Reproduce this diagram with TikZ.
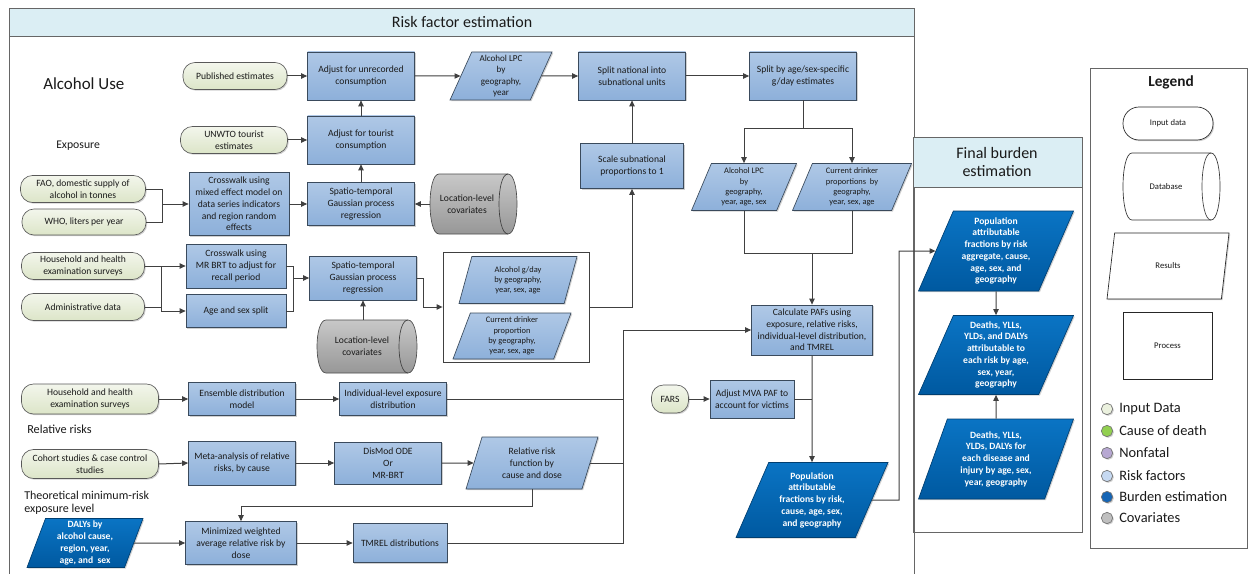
\documentclass[tikz,border=0pt]{standalone}
\usepackage{fontspec}
\setmainfont{Carlito}
\usetikzlibrary{arrows.meta,shapes.geometric,calc,shadows}
\definecolor{procT}{HTML}{AFC8E6}
\definecolor{procB}{HTML}{8DB0DA}
\definecolor{inpT}{HTML}{F3F6EC}
\definecolor{inpB}{HTML}{DCE5C8}
\definecolor{darkT}{HTML}{0A74C4}
\definecolor{darkB}{HTML}{0059A0}
\definecolor{hdr}{HTML}{DBEEF4}
\definecolor{lineC}{HTML}{404040}
\definecolor{edgeC}{HTML}{3A4A5C}
\definecolor{covT}{HTML}{C8C8C8}
\definecolor{covB}{HTML}{979797}
\definecolor{txt}{HTML}{1A1A1A}
\definecolor{cInp}{HTML}{EBF1DE}
\definecolor{cCod}{HTML}{92D050}
\definecolor{cNf}{HTML}{B7A8D2}
\definecolor{cRf}{HTML}{C6D9F1}
\definecolor{cBe}{HTML}{1565B5}
\definecolor{cCov}{HTML}{BFBFBF}
\tikzset{
 sz/.style 2 args={minimum width=#1*0.75pt, minimum height=#2*0.75pt},
 shad/.style={drop shadow={shadow xshift=0.9pt, shadow yshift=-0.9pt, opacity=0.3, fill=black!60}},
 proc/.style={rectangle, draw=edgeC, line width=0.5pt, top color=procT, bottom color=procB, align=center, inner sep=1pt, font=\fontsize{7.2}{8.8}\selectfont, text=txt, shad},
 inp/.style={rectangle, rounded corners=9pt, draw=black!65, line width=0.5pt, top color=inpT, bottom color=inpB, align=center, inner sep=1pt, font=\fontsize{7.2}{8.8}\selectfont, text=txt, shad},
 para/.style={trapezium, trapezium left angle=63, trapezium right angle=117, trapezium stretches body, draw=edgeC, line width=0.5pt, top color=procT, bottom color=procB, align=center, inner sep=0.5pt, font=\fontsize{6.3}{7.6}\selectfont, text=txt, shad},
 dpara/.style={para, draw=darkB!70!black, top color=darkT, bottom color=darkB, text=white, font=\fontsize{7.2}{8.8}\selectfont\bfseries},
 cylbox/.style={rectangle, inner sep=0pt},
 cyltext/.style={inner sep=0pt, align=center, font=\fontsize{7.2}{8.8}\selectfont, text=txt},
 cylg/.style={draw=black!70, line width=0.5pt, top color=covT, bottom color=covB},
 cylw/.style={draw=black!80, line width=0.5pt, fill=white},
 cylin/.style={draw=black!75, line width=0.5pt},
 arr/.style={draw=lineC, line width=0.75pt, -{Triangle[length=4.5pt,width=4pt]}},
 ln/.style={draw=lineC, line width=0.75pt},
 panel/.style={draw=black!60, line width=0.6pt},
 sect/.style={anchor=west, inner sep=0pt, text=txt},
 legs/.style={draw=black!85, line width=0.5pt, fill=white, align=center, font=\fontsize{6.5}{8}\selectfont, text=txt, shad},
 lgc/.style={circle, draw=black!55, line width=0.5pt, minimum size=8.5pt, inner sep=0pt, shad},
 lgt/.style={anchor=west, inner sep=0pt, font=\fontsize{10.8}{12}\selectfont, text=txt},
}
\newcommand\cylsh[5]{%
 \pgfmathsetmacro\cyA{#2+9}\pgfmathsetmacro\cyB{#4-9}%
 \pgfmathsetmacro\cyC{#2-3}\pgfmathsetmacro\cyD{#4+3}\pgfmathsetmacro\cyE{#4-21}%
 \draw[#1] (\cyA,#3) -- (\cyB,#3) .. controls (\cyD,#3) and (\cyD,#5) .. (\cyB,#5) -- (\cyA,#5) .. controls (\cyC,#5) and (\cyC,#3) .. (\cyA,#3) -- cycle;
 \draw[cylin] (\cyB,#3) .. controls (\cyE,#3) and (\cyE,#5) .. (\cyB,#5);
}
\begin{document}
\begin{tikzpicture}[x=0.75pt,y=-0.75pt]
\path[use as bounding box, fill=white] (0,0) rectangle (1248,574);

% panels
\draw[panel] (9,36) -- (9,576);
\draw[panel] (914,36) -- (914,576);
\draw[panel,fill=hdr] (9,8) rectangle (914,36);
\node[font=\fontsize{12}{14}\selectfont, text=txt] (rfe) at (462,22) {Risk factor estimation};
\draw[panel] (913,137) rectangle (1082,532);
\draw[panel,fill=hdr] (913,137) rectangle (1082,187);
\node[align=center, font=\fontsize{12}{13.5}\selectfont, text=txt] (fbe) at (997,162) {Final burden\\estimation};
\draw[panel] (1090,68) rectangle (1247,548);

% section labels
\node[sect, font=\fontsize{12.7}{15}\selectfont] (tAU) at (43,84) {Alcohol Use};
\node[sect, font=\fontsize{8.8}{10}\selectfont] (tExp) at (56,146) {Exposure};
\node[sect, font=\fontsize{9.2}{10}\selectfont] (tRR) at (27,429) {Relative risks};
\node[sect, align=left, font=\fontsize{9}{9.8}\selectfont] (tTM) at (24,503) {Theoretical minimum-risk\\exposure level};

% cylinders (covariates)
\cylsh{cylg}{430}{174}{517}{234}
\node[cylbox, sz={87}{60}] (cov1) at (473.5,204) {};
\node[cyltext] (cov1t) at (467,204) {Location-level\\covariates};
\cylsh{cylg}{317}{320}{417}{373}
\node[cylbox, sz={100}{53}] (cov2) at (367,346.5) {};
\node[cyltext] (cov2t) at (362,346.5) {Location-level\\covariates};

% input data
\node[inp, sz={104}{27}] (pub) at (235,76) {Published estimates};
\node[inp, sz={107}{27}] (unwto) at (234,140) {UNWTO tourist\\estimates};
\node[inp, sz={125}{27}] (fao) at (83,189) {FAO, domestic supply of\\alcohol in tonnes};
\node[inp, sz={124}{26}] (who) at (84,222) {WHO, liters per year};
\node[inp, sz={123}{27}] (hh1) at (83,266) {Household and health\\examination surveys};
\node[inp, sz={123}{27}] (adm) at (83,307) {Administrative data};
\node[inp, sz={137}{30}] (hh2) at (90,399) {Household and health\\examination surveys};
\node[inp, sz={137}{29}] (coh) at (90,464) {Cohort studies \& case control\\studies};
\node[inp, sz={37}{28}] (fars) at (670,399) {FARS};

% processes and results
\node[proc, sz={107}{48}] (unrec) at (361,76) {Adjust for unrecorded\\consumption};
\node[proc, sz={107}{48}] (tour) at (361,140) {Adjust for tourist\\consumption};
\node[proc, sz={100}{63}] (xw1) at (239,204) {Crosswalk using\\mixed effect model on\\data series indicators\\and region random\\effects};
\node[proc, sz={107}{43}] (st1) at (361,204) {Spatio-temporal\\Gaussian process\\regression};
\node[proc, sz={100}{44}] (xw2) at (236,266) {Crosswalk using\\MR BRT to adjust for\\recall period};
\node[proc, sz={100}{33}] (ages) at (236,311) {Age and sex split};
\node[proc, sz={107}{44}] (st2) at (363,278) {Spatio-temporal\\Gaussian process\\regression};
\node[draw=black!75, line width=0.6pt, sz={146}{110}] (cont) at (516,307) {};
\node[para, sz={118}{47}, trapezium left angle=66, trapezium right angle=114] (gday) at (518,280) {Alcohol g/day\\by geography,\\year, sex, age};
\node[para, sz={118}{46}, trapezium left angle=66, trapezium right angle=114] (cdp) at (512,336) {Current drinker\\proportion\\by geography,\\year, sex, age};
\node[para, sz={102}{48}, font=\fontsize{6.8}{8.4}\selectfont] (lpc) at (501,76) {Alcohol LPC\\by\\geography,\\year};
\node[proc, sz={107}{48}] (snat) at (632,76) {Split national into\\subnational units};
\node[proc, sz={107}{48}] (sage) at (803,76) {Split by age/sex-specific\\g/day estimates};
\node[proc, sz={103}{45}] (scale) at (632,166) {Scale subnational\\proportions to 1};
\node[para, sz={105}{47}] (lpc2) at (744,187) {Alcohol LPC\\by\\geography,\\year, age, sex};
\node[para, sz={119}{47}] (cdp2) at (852,187) {Current drinker\\proportions~ by\\geography,\\year, sex, age};
\node[proc, sz={121}{50}] (paf) at (812,330) {Calculate PAFs using\\exposure, relative risks,\\individual-level distribution,\\and TMREL};
\node[proc, sz={107}{33}] (ens) at (242,399) {Ensemble distribution\\model};
\node[proc, sz={107}{33}] (indiv) at (393,399) {Individual-level exposure\\distribution};
\node[proc, sz={107}{44}] (meta) at (242,463) {Meta-analysis of relative\\risks, by cause};
\node[proc, sz={107}{42}] (dism) at (388,463) {DisMod ODE\\Or\\MR-BRT};
\node[para, sz={132}{52}, font=\fontsize{7.2}{8.8}\selectfont] (rrf) at (532,463) {Relative risk\\function by\\cause and dose};
\node[dpara, sz={116}{49}, trapezium left angle=67, trapezium right angle=113, inner sep=0pt] (dalys) at (85,543) {DALYs by\\alcohol cause,\\region, year,\\age, and~ sex};
\node[proc, sz={111}{43}] (minw) at (241,543) {Minimized weighted\\average relative risk by\\dose};
\node[proc, sz={94}{39}] (tmrel) at (400,543) {TMREL distributions};
\node[proc, sz={84}{38}] (mva) at (752,399) {Adjust MVA PAF to\\account for victims};
\node[dpara, sz={152}{75}, trapezium left angle=60, trapezium right angle=120] (pafr) at (812,500) {Population\\attributable\\fractions by risk,\\cause, age, sex,\\and geography};
\node[dpara, sz={155}{80}] (fpaf) at (996,251) {Population\\attributable\\fractions by risk\\aggregate, cause,\\age, sex, and\\geography};
\node[dpara, sz={155}{79}] (fatt) at (996,355) {Deaths, YLLs,\\YLDs, and DALYs\\attributable to\\each risk by age,\\sex, year,\\geography};
\node[dpara, sz={155}{80}] (fdis) at (996,459) {Deaths, YLLs,\\YLDs, DALYs for\\each disease and\\injury by age, sex,\\year, geography};

% legend
\node[font=\fontsize{11.5}{13}\selectfont\bfseries, text=txt] (leg) at (1171,82) {Legend};
\node[legs, rectangle, rounded corners=12pt, sz={90}{33}] (lin) at (1168,123.5) {Input data};
\cylsh{cylw}{1123}{153}{1220}{220}
\node[cylbox, sz={97}{67}] (ldb) at (1171.5,186.5) {};
\node[cyltext, font=\fontsize{6.5}{8}\selectfont] (ldbt) at (1166,186.5) {Database};
\node[legs, trapezium, trapezium left angle=63, trapezium right angle=117, trapezium stretches body, sz={122}{66}] (lres) at (1168,266) {Results};
\node[legs, rectangle, sz={89}{67}] (lproc) at (1167.5,345.5) {Process};
\node[lgc, fill=cInp] (c1) at (1107,409) {};
\node[lgt] (t1) at (1119,409) {Input Data};
\node[lgc, fill=cCod] (c2) at (1107,431) {};
\node[lgt] (t2) at (1119,431) {Cause of death};
\node[lgc, fill=cNf] (c3) at (1107,453) {};
\node[lgt] (t3) at (1119,453) {Nonfatal};
\node[lgc, fill=cRf] (c4) at (1107,476) {};
\node[lgt] (t4) at (1119,476) {Risk factors};
\node[lgc, fill=cBe] (c5) at (1107,497) {};
\node[lgt] (t5) at (1119,497) {Burden estimation};
\node[lgc, fill=cCov] (c6) at (1107,518) {};
\node[lgt] (t6) at (1119,518) {Covariates};

% connectors
\draw[arr] (pub.east) -- (unrec.west);
\draw[arr] (unwto.east) -- (tour.west);
\draw[arr] (tour.north) -- (unrec.south);
\draw[arr] (st1.north) -- (tour.south);
\coordinate (j1) at (162,204);
\draw[ln] (fao.east) -| (j1);
\draw[ln] (who.east) -| (j1);
\draw[arr] (j1) -- (xw1.west);
\draw[arr] (xw1.east) -- (st1.west);
\draw[arr] (cov1.west) -- (st1.east);
\draw[arr] (hh1.east) -- (xw2.west);
\coordinate (j2) at (161,266);
\draw[ln] (adm.east) -- (adm.east -| j2);
\draw[arr] (j2) |- (ages.west);
\coordinate (j3) at (293,278);
\draw[ln] (xw2.east) -| (j3);
\draw[ln] (ages.east) -| (j3);
\draw[arr] (j3) -- (st2.west);
\draw[arr] (cov2.north -| st2.south) -- (st2.south);
\draw[arr] (st2.east) -- ++(7,0) |- (cont.west);
\draw[arr] (cont.east) -| (scale.south);
\draw[arr] (scale.north) -- (snat.south);
\draw[arr] (unrec.east) -- (lpc.west);
\draw[arr] (lpc.east) -- (snat.west);
\draw[arr] (snat.east) -- (sage.west);
\draw[ln] (sage.south) -- ++(0,28) coordinate (j4);
\draw[arr] (j4) -| (lpc2.north);
\draw[arr] (j4) -| (cdp2.north);
\coordinate (j5) at (812,253);
\draw[ln] (lpc2.south) |- (j5);
\draw[ln] (cdp2.south) |- (j5);
\draw[arr] (j5) -- (paf.north);
\draw[arr] (hh2.east) -- (ens.west);
\draw[arr] (ens.east) -- (indiv.west);
\draw[arr] (coh.east) -- (meta.west);
\draw[arr] (meta.east) -- (dism.west);
\draw[arr] (dism.east) -- (rrf.west);
\draw[arr] (dalys.east) -- (minw.west);
\draw[arr] (minw.east) -- (tmrel.west);
\coordinate (bus) at (623,330);
\draw[arr] (tmrel.east) -| (bus) -- (paf.west);
\draw[ln] (indiv.east) -- (indiv.east -| bus);
\draw[ln] (rrf.east) -- (rrf.east -| bus);
\draw[arr] (rrf.south) -- ++(0,17) -| (minw.north);
\draw[arr] (fars.east) -- (mva.west);
\draw[arr] (paf.south) -- (pafr.north);
\draw[ln] (mva.east) -- (mva.east -| paf.south);
\coordinate (j6) at (899,251);
\draw[arr] (pafr.east) -| (j6) -- (fpaf.west);
\draw[arr] (fpaf.south) -- (fatt.north);
\draw[arr] (fdis.north) -- (fatt.south);
\end{tikzpicture}
\end{document}
